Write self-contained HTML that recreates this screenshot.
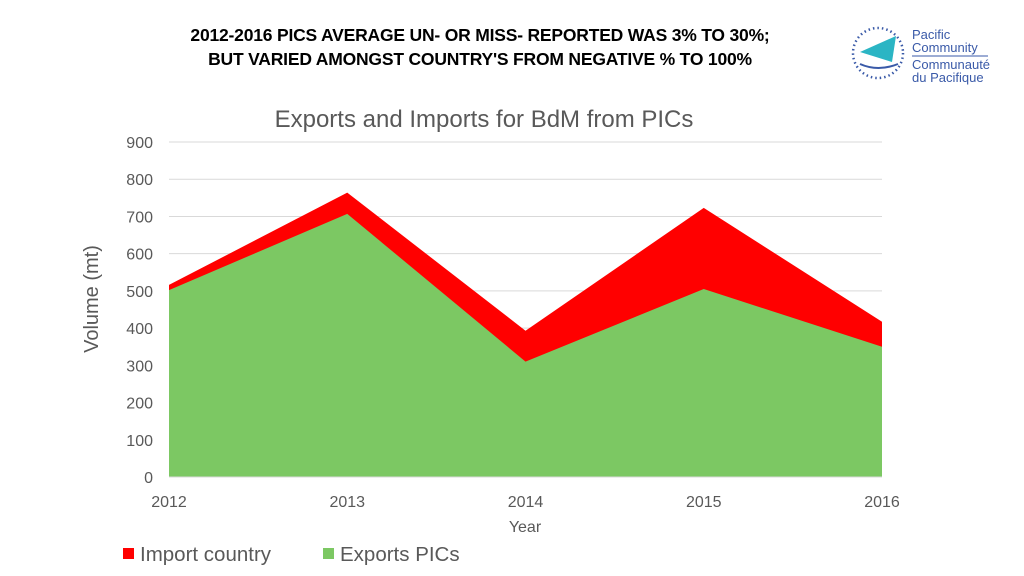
<!DOCTYPE html>
<html><head><meta charset="utf-8"><style>
body{margin:0;width:1024px;height:576px;background:#fff;overflow:hidden;font-family:"Liberation Sans",sans-serif;position:relative}
.title{position:absolute;left:100px;top:23px;width:760px;text-align:center;font-weight:bold;font-size:17.5px;line-height:24px;color:#000;letter-spacing:-0.2px}
</style></head><body>
<div class="title">2012-2016 PICS AVERAGE UN- OR MISS- REPORTED WAS 3% TO 30%;<br>BUT VARIED AMONGST COUNTRY'S FROM NEGATIVE % TO 100%</div>
<svg style="position:absolute;left:848px;top:22px" width="150" height="68">
<circle cx="30" cy="31" r="25" fill="none" stroke="#3a5aa8" stroke-width="2.5" stroke-dasharray="1.5 3"/>
<polygon points="12,30 48,14 44,40" fill="#2bb5c4"/>
<path d="M12,42 Q30,50 50,42" stroke="#3a5aa8" stroke-width="2" fill="none"/>
<text x="64" y="17" font-size="13" fill="#3a5aa8" font-family="Liberation Sans">Pacific</text>
<text x="64" y="30" font-size="13" fill="#3a5aa8" font-family="Liberation Sans">Community</text>
<line x1="64" y1="34" x2="140" y2="34" stroke="#3a5aa8"/>
<text x="64" y="47" font-size="13" fill="#3a5aa8" font-family="Liberation Sans">Communauté</text>
<text x="64" y="60" font-size="13" fill="#3a5aa8" font-family="Liberation Sans">du Pacifique</text>
</svg>
<svg id="chart" width="1024" height="576" style="position:absolute;left:0;top:0"></svg>
<script>
const years=["2012","2013","2014","2015","2016"];
const importVals=[516,764,393,723,417];
const exportVals=[502,707,310,505,350];
const yTicks=[0,100,200,300,400,500,600,700,800,900];
const NS="http://www.w3.org/2000/svg";
const svg=document.getElementById('chart');
const x0=169,x1=882,yb=477,yt=142,ymax=900;
const xs=i=>x0+(x1-x0)*i/(years.length-1);
const ys=v=>yb-(yb-yt)*v/ymax;
function mk(t,a){const e=document.createElementNS(NS,t);for(const k in a)e.setAttribute(k,a[k]);svg.appendChild(e);return e;}
const F='"Liberation Sans",sans-serif';
const tt=mk('text',{x:484,y:127,'text-anchor':'middle','font-size':24,fill:'#595959','font-family':F});tt.textContent='Exports and Imports for BdM  from PICs';


yTicks.forEach(v=>{
 if(v>0){const l=mk('line',{x1:x0,x2:x1,y1:ys(v),y2:ys(v),stroke:'#d9d9d9','stroke-width':1});
 
 }
 const t=mk('text',{x:153,y:ys(v)+6,'text-anchor':'end','font-size':16,fill:'#595959','font-family':F});t.textContent=v;
 
 
});
function area(vals,color,name){
 let d=`M${xs(0)},${yb}`;vals.forEach((v,i)=>d+=` L${xs(i)},${ys(v)}`);d+=` L${xs(vals.length-1)},${yb} Z`;
 const p=mk('path',{d:d,fill:color});
 
 
}
area(importVals,'#ff0000','import-area');
area(exportVals,'#7cc863','export-area');
const ax=mk('line',{x1:x0,x2:x1,y1:yb,y2:yb,stroke:'#d9d9d9'});


years.forEach((y,i)=>{const t=mk('text',{x:xs(i),y:507,'text-anchor':'middle','font-size':16,fill:'#595959','font-family':F});t.textContent=y;
 
 });
const xt=mk('text',{x:525,y:532,'text-anchor':'middle','font-size':16,fill:'#595959','font-family':F});xt.textContent='Year';


const yt2=mk('text',{x:0,y:0,'text-anchor':'middle','font-size':20,fill:'#595959','font-family':F,transform:'translate(98,299) rotate(-90)'});yt2.textContent='Volume  (mt)';


[[123,'#ff0000','Import country','legend-import'],[323,'#7cc863','Exports PICs','legend-exports']].forEach(([x,c,l,n])=>{
 const g=mk('g',{});
 
 
 const r=document.createElementNS(NS,'rect');r.setAttribute('x',x);r.setAttribute('y',548);r.setAttribute('width',11);r.setAttribute('height',11);r.setAttribute('fill',c);g.appendChild(r);
 const t=document.createElementNS(NS,'text');t.setAttribute('x',x+17);t.setAttribute('y',561);t.setAttribute('font-size',20.5);t.setAttribute('fill','#595959');t.setAttribute('font-family',F);t.textContent=l;g.appendChild(t);
});
</script>
</body></html>
